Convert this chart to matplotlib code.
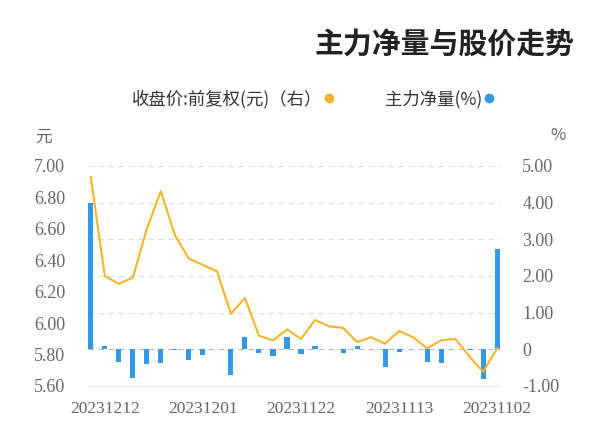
import matplotlib.pyplot as plt
from matplotlib.lines import Line2D
import numpy as np

# chronological order, oldest first
net_pct = [2.75, -0.80, -0.03, 0.0, -0.37, -0.35, 0.0, -0.08, -0.48, 0.0,
           0.08, -0.10, 0.0, 0.08, -0.12, 0.34, -0.18, -0.10, 0.34, -0.71,
           0.02, -0.16, -0.28, -0.02, -0.36, -0.39, -0.78, -0.35, 0.10, 4.00]
close_price = [5.84, 5.69, 5.79, 5.90, 5.89, 5.84, 5.91, 5.95, 5.87, 5.91,
               5.88, 5.97, 5.98, 6.02, 5.90, 5.96, 5.89, 5.92, 6.16, 6.06,
               6.33, 6.37, 6.41, 6.56, 6.84, 6.60, 6.29, 6.25, 6.30, 6.93]
tick_pos = [0, 7, 14, 21, 28]
tick_labels = ["20231102", "20231113", "20231122", "20231201", "20231212"]
pct_ticks = [-1, 0, 1, 2, 3, 4, 5]
pct_labels = ["-1.00", "0", "1.00", "2.00", "3.00", "4.00", "5.00"]
price_ticks = [5.6, 5.8, 6.0, 6.2, 6.4, 6.6, 6.8, 7.0]

blue = "#3398e6"
gold = "#f4b42c"
cjk = ["Noto Sans CJK SC", "DejaVu Sans"]
num_font = "Liberation Serif"
grey = "#666666"

fig = plt.figure(figsize=(6, 4.46), dpi=100)
ax = fig.add_axes([88 / 600, 60 / 446, 412 / 600, 220 / 446])
ax2 = ax.twinx()

x = np.arange(len(net_pct))
ax.bar(x, net_pct, width=0.36, color=blue, zorder=3)
ax2.plot(x, close_price, color=gold, lw=1.5, zorder=4)

ax.set_xlim(29.2, -0.2)
ax.set_ylim(-1, 5)
ax2.set_ylim(5.6, 7.0)

# % axis on the right, price on the left
ax.yaxis.tick_right()
ax2.yaxis.tick_left()
ax.set_yticks(pct_ticks)
ax.set_yticklabels(pct_labels, fontfamily=num_font, fontsize=13, color=grey, ha="left")
ax2.set_yticks(price_ticks)
ax2.set_yticklabels([f"{v:.2f}" for v in price_ticks], fontfamily=num_font,
                    fontsize=13, color=grey)
ax.tick_params(axis="y", length=0, pad=16)
ax2.tick_params(axis="y", length=0, pad=16.5)

ax.set_xticks(tick_pos)
ax.set_xticklabels(tick_labels, fontfamily=num_font, fontsize=12.5, color=grey)
ax.tick_params(axis="x", length=0, pad=11)

for y in pct_ticks[1:]:
    ax.axhline(y, color="#dcdcdc" if y else "#b8b8b8", lw=0.8,
               ls=(0, (5, 4)), zorder=1)

for a in (ax, ax2):
    for s in a.spines.values():
        s.set_visible(False)
ax.spines["bottom"].set_visible(True)
ax.spines["bottom"].set_color("#e3e3e3")

fig.text(43 / 600, 1 - 137 / 446, "元", family=cjk, fontsize=12, color=grey,
         ha="center", va="center")
fig.text(558 / 600, 1 - 136 / 446, "%", family=cjk, fontsize=12, color=grey,
         ha="center", va="center")

fig.text(574 / 600, 1 - 44 / 446, "主力净量与股价走势", family=cjk, fontsize=20.8,
         fontweight="bold", color="#222222", ha="right", va="center")

handles = [
    Line2D([], [], ls="", marker="o", ms=6, color=gold),
    Line2D([], [], ls="", marker="o", ms=6, color=blue),
]
fig.legend(handles, ["收盘价:前复权(元)（右）", "主力净量(%)"],
           loc="center", bbox_to_anchor=(313 / 600, 1 - 99 / 446),
           ncol=2, frameon=False, markerfirst=False, handletextpad=0.1,
           columnspacing=2.9, handlelength=0.6,
           prop={"family": cjk, "size": 12.5}, labelcolor="#333333")

fig.savefig("out.png", dpi=100)
